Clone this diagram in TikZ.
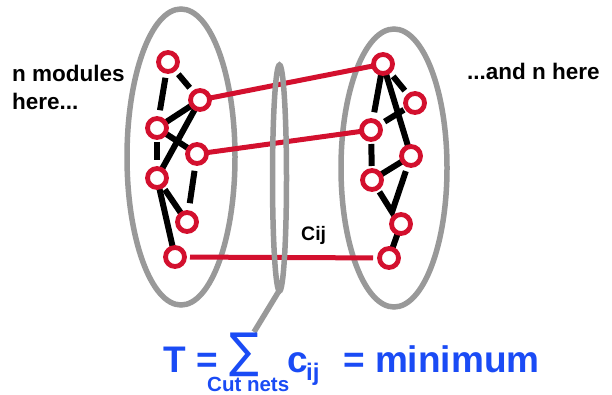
\documentclass[tikz,border=0pt]{standalone}
\usepackage{fontspec}
\usetikzlibrary{shapes.geometric}
\setmainfont{Liberation Sans}
\newfontfamily\symfont{DejaVu Sans}
\definecolor{netred}{HTML}{D3102E}
\definecolor{ringgray}{HTML}{999999}
\definecolor{formblue}{HTML}{1A4BF5}
\begin{document}
\begin{tikzpicture}[x=1pt,y=-1pt,
  mod/.style={circle,draw=netred,fill=white,line width=4.8pt,minimum size=19pt,inner sep=0pt},
  wire/.style={black,line width=6pt},
  cut/.style={netred,line width=5pt},
  ring/.style={ringgray,line width=5.5pt},
  lbl/.style={font=\bfseries\fontsize{22.5}{27}\selectfont,anchor=base west,inner sep=0pt},
  form/.style={text=formblue,font=\bfseries\fontsize{37}{40}\selectfont,anchor=base west,inner sep=0pt}]
\useasboundingbox (0,0) rectangle (612,395);
% big rings
\node[ring,draw,ellipse,minimum width=108pt,minimum height=296pt,inner sep=0pt] (L) at (181,157) {};
\node[ring,draw,ellipse,minimum width=106pt,minimum height=278pt,inner sep=0pt] (R) at (394,168) {};
% left modules
\coordinate (n1) at (168,62);
\coordinate (n2) at (200,100);
\coordinate (n3) at (157,128);
\coordinate (n4) at (197,154);
\coordinate (n5) at (157,178);
\coordinate (n6) at (187,222);
\coordinate (n7) at (175,257);
% right modules
\coordinate (m1) at (383,64);
\coordinate (m2) at (415,103);
\coordinate (m3) at (371,130);
\coordinate (m4) at (411,156);
\coordinate (m5) at (372,180);
\coordinate (m6) at (401,224);
\coordinate (m7) at (389,258);
\coordinate (v) at (392,212);
% cut nets
\draw[cut] (n2) -- (m1);
\draw[cut] (n4) -- (m3);
\draw[cut,shorten <=15pt,shorten >=16pt] (n7) -- (m7);
% cut ring
\node[ring,draw,ellipse,minimum width=14pt,minimum height=226pt,inner sep=0pt] (C) at (279.5,178) {};
\coordinate (tail) at (254,332);
\draw[ring] (C.south) ++(-1,-2) -- (tail);
% left wires
\draw[wire,shorten <=16pt,shorten >=16pt] (n1) -- (n2);
\draw[wire,shorten <=16pt,shorten >=18pt] (n1) -- (n3);
\draw[wire] (n3) -- (n2);
\draw[wire] (n2) -- (n5);
\draw[wire,shorten >=11pt] (n3) -- (n4);
\draw[wire,shorten <=14pt,shorten >=18pt] (n3) -- (n5);
\draw[wire,shorten <=17pt,shorten >=19pt] (n4) -- (n6);
\draw[wire,shorten <=14pt,shorten >=9pt] (n5) -- (n6);
\draw[wire] (n5) -- (n7);
% right wires
\draw[wire,shorten <=16pt,shorten >=16pt] (m1) -- (m2);
\draw[wire,shorten >=18pt] (m1) -- (m3);
\draw[wire] (m1) -- (m4);
\draw[wire,shorten <=16pt,shorten >=13pt] (m3) -- (m2);
\draw[wire,shorten <=14pt,shorten >=14pt] (m3) -- (m5);
\draw[wire] (m5) -- (m4);
\draw[wire,shorten <=14pt,shorten >=16pt] (m5) -- (v) -- (m4);
\draw[wire] (m6) -- (m7);
% module circles
\foreach \p in {n1,n2,n3,n4,n5,n6,n7,m1,m2,m3,m4,m5,m6,m7}
  \node[mod] (c\p) at (\p) {};
% labels
\node[lbl] (t1) at (12,82) {n modules};
\node[lbl] (t2) at (12,110) {here...};
\node[lbl] (t3) at (467,80) {...and n here};
\node[lbl,font=\bfseries\fontsize{19.5}{22}\selectfont] (cij) at (301,240) {Cij};
% formula
\node[form] (f1) at (163,372) {T =};
\node[text=formblue,font=\symfont\fontsize{48}{52}\selectfont,anchor=base west,inner sep=0pt] (sig) at (229,367) {\scalebox{0.92}[1]{∑}};
\node[form] (f2) at (287,372) {c};
\node[form,font=\bfseries\fontsize{24}{26}\selectfont] (f3) at (306,380) {ij};
\node[form] (f4) at (343,372) {= minimum};
\node[form,font=\bfseries\fontsize{20.5}{22}\selectfont] (f5) at (207,391) {Cut nets};
\end{tikzpicture}
\end{document}
